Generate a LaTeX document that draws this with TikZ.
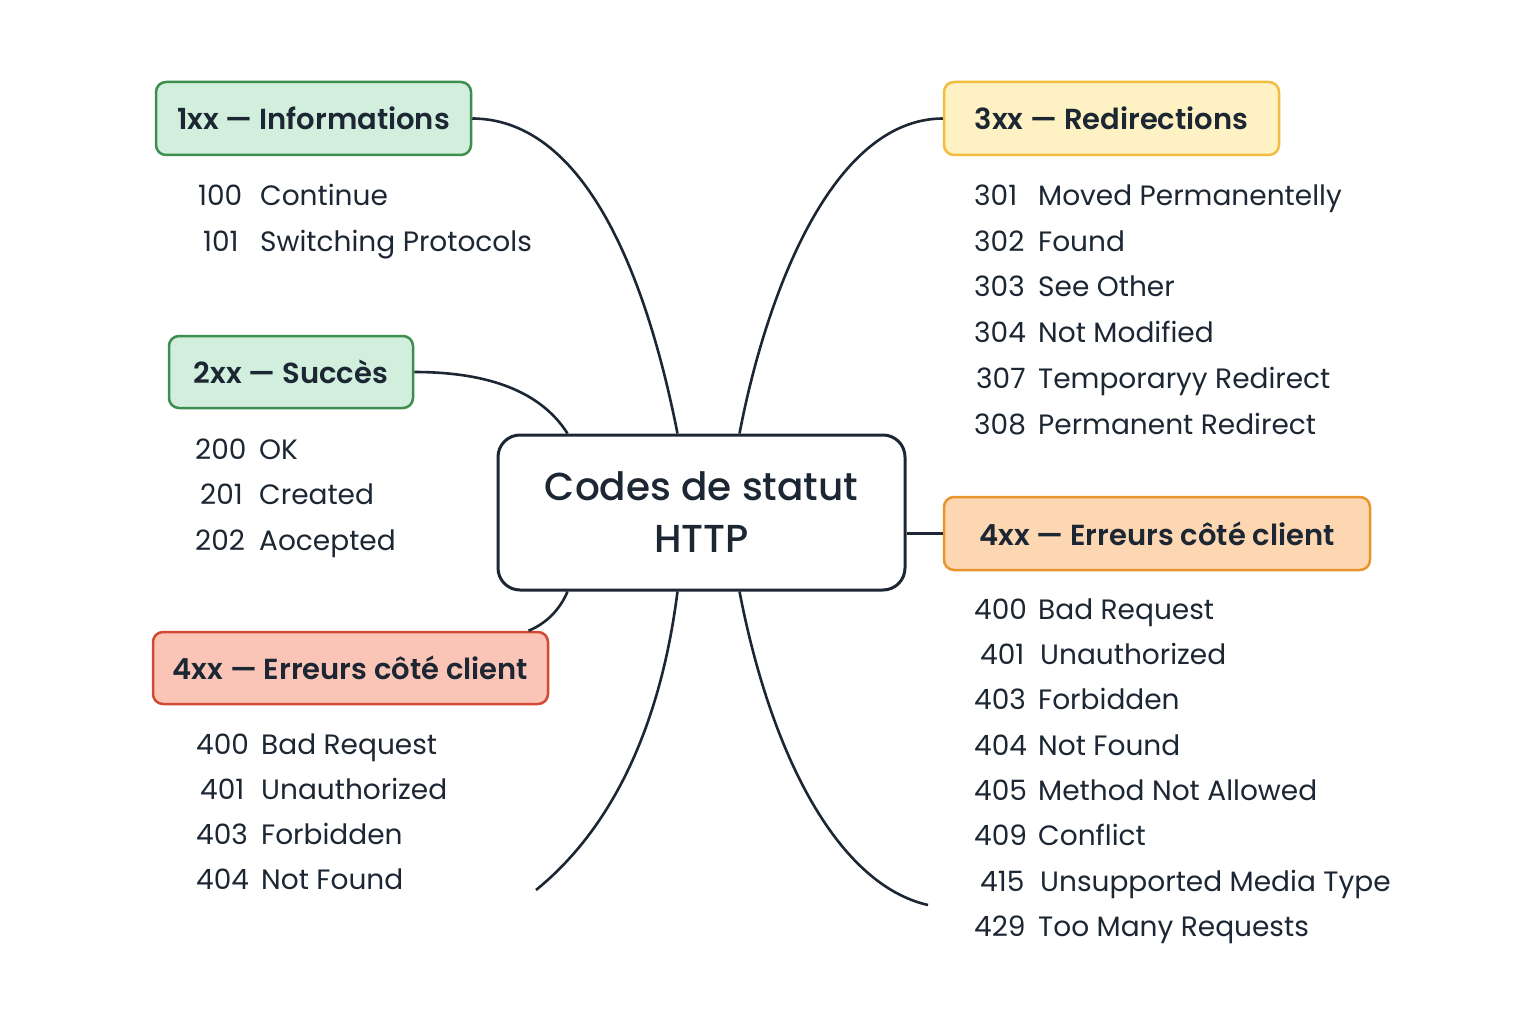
\documentclass[tikz,border=0pt]{standalone}
\usepackage{fontspec}
\setmainfont{Poppins}[BoldFont={Poppins SemiBold}]
\newfontfamily\medfont{Poppins Medium}
\usetikzlibrary{calc}
\definecolor{ink}{HTML}{1C2733}
\definecolor{gfill}{HTML}{D2EEDD}
\definecolor{gline}{HTML}{3E8E50}
\definecolor{yfill}{HTML}{FEF1C3}
\definecolor{yline}{HTML}{F2BC3E}
\definecolor{ofill}{HTML}{FDD6B2}
\definecolor{oline}{HTML}{E8952E}
\definecolor{rfill}{HTML}{FAC5B7}
\definecolor{rline}{HTML}{D24A33}
\tikzset{
  catbox/.style={draw, line width=2.5pt, rounded corners=10pt, inner sep=0pt,
    text height=26pt, text depth=3pt,
    font=\fontsize{29}{34}\selectfont\bfseries, text=ink, anchor=center},
  centerbox/.style={draw=ink, fill=white, line width=3pt, rounded corners=22pt,
    minimum width=407pt, minimum height=155pt, align=center, text=ink,
    font=\fontsize{39}{52}\selectfont\medfont},
  item/.style={anchor=west, inner sep=0pt, text height=26pt, text depth=4pt,
    text=ink, font=\fontsize{28}{32}\selectfont},
  link/.style={draw=ink, line width=2.6pt},
}
\begin{document}
\begin{tikzpicture}[x=1pt,y=-1pt]
\useasboundingbox (0,0) rectangle (1536,1024);
\fill[white] (0,0) rectangle (1536,1024);

% central node
\node[centerbox] (c) at (701.5,512.5) {Codes de statut\\HTTP};

% category boxes
\node[catbox, fill=gfill, draw=gline, minimum width=315pt, minimum height=73pt] (b1) at (313.5,118.5) {1xx — Informations};
\node[catbox, fill=gfill, draw=gline, minimum width=244pt, minimum height=72pt] (b2) at (291,372) {2xx — Succès};
\node[catbox, fill=rfill, draw=rline, minimum width=395pt, minimum height=72pt] (b5) at (350.5,668) {4xx — Erreurs côté client};
\node[catbox, fill=yfill, draw=yline, minimum width=335pt, minimum height=73pt] (b3) at (1111.5,118.5) {3xx — Redirections};
\node[catbox, fill=ofill, draw=oline, minimum width=426pt, minimum height=73pt] (b4) at (1157,533.5) {4xx — Erreurs côté client};

% free ends of the two lower branches
\coordinate (e1) at (536,890);
\coordinate (e2) at (928,905);

% connectors
\draw[link] (b1.east) .. controls (600,119) and (655,320) .. ([xshift=-24pt]c.north);
\draw[link] (b2.east) .. controls (500,372) and (545,398) .. ([xshift=-134pt]c.north);
\draw[link] (b3.west) .. controls (830,119) and (765,300) .. ([xshift=38pt]c.north);
\draw[link] (b4.west) -- (b4.west -| c.east);
\draw[link] ([xshift=178pt]b5.north) .. controls (550,622) and (562,605) .. ([xshift=-134pt]c.south);
\draw[link] ([xshift=-24pt]c.south) .. controls (660,730) and (610,830) .. (e1);
\draw[link] ([xshift=38pt]c.south) .. controls (772,760) and (840,885) .. (e2);

% 1xx
\node[item] (n100) at (198,195) {100};   \node[item] (t100) at (260,195) {Continue};
\node[item] (n101) at (203,241) {101};   \node[item] (t101) at (260,241) {Switching Protocols};
% 2xx
\node[item] (n200) at (195,448) {200};   \node[item] (t200) at (259,448) {OK};
\node[item] (n201) at (200,493) {201};   \node[item] (t201) at (259,493) {Created};
\node[item] (n202) at (195,539) {202};   \node[item] (t202) at (259,539) {Aocepted};
% 4xx left
\node[item] (l400) at (196,743) {400};   \node[item] (m400) at (261,743) {Bad Request};
\node[item] (l401) at (200,788) {401};   \node[item] (m401) at (261,788) {Unauthorized};
\node[item] (l403) at (196,833) {403};   \node[item] (m403) at (261,833) {Forbidden};
\node[item] (l404) at (196,878) {404};   \node[item] (m404) at (261,878) {Not Found};
% 3xx
\node[item] (n301) at (974,195) {301};   \node[item] (t301) at (1038,195) {Moved Permanentelly};
\node[item] (n302) at (974,241) {302};   \node[item] (t302) at (1038,241) {Found};
\node[item] (n303) at (974,286) {303};   \node[item] (t303) at (1038,286) {See Other};
\node[item] (n304) at (974,331) {304};   \node[item] (t304) at (1038,331) {Not Modified};
\node[item] (n307) at (976,377) {307};   \node[item] (t307) at (1038,377) {Temporaryy Redirect};
\node[item] (n308) at (974,423) {308};   \node[item] (t308) at (1038,423) {Permanent Redirect};
% 4xx right
\node[item] (r400) at (974,608) {400};   \node[item] (s400) at (1038,608) {Bad Request};
\node[item] (r401) at (980,653) {401};   \node[item] (s401) at (1040,653) {Unauthorized};
\node[item] (r403) at (974,698) {403};   \node[item] (s403) at (1038,698) {Forbidden};
\node[item] (r404) at (974,744) {404};   \node[item] (s404) at (1038,744) {Not Found};
\node[item] (r405) at (974,789) {405};   \node[item] (s405) at (1038,789) {Method Not Allowed};
\node[item] (r409) at (974,834) {409};   \node[item] (s409) at (1038,834) {Conflict};
\node[item] (r415) at (980,880) {415};   \node[item] (s415) at (1040,880) {Unsupported Media Type};
\node[item] (r429) at (974,925) {429};   \node[item] (s429) at (1038,925) {Too Many Requests};
\end{tikzpicture}
\end{document}
